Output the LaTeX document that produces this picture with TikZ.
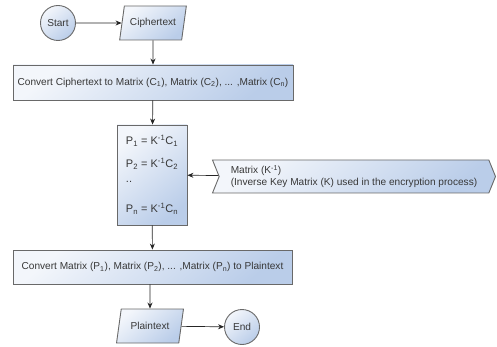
\documentclass[tikz,border=0pt]{standalone}
\usepackage{fontspec}
\setmainfont{Liberation Sans}
\usetikzlibrary{arrows.meta,shapes.geometric,shapes.symbols}
\definecolor{fillhi}{RGB}{243,246,251}
\definecolor{filllo}{RGB}{186,205,233}
\definecolor{edgegray}{RGB}{105,105,105}
\definecolor{textgray}{RGB}{55,55,55}
\begin{document}
\begin{tikzpicture}[x=1pt,y=-1pt,
    shape base/.style={draw=edgegray,line width=0.9pt,top color=fillhi,bottom color=filllo,shading angle=40,
        text=textgray,font=\fontsize{10.1}{12}\selectfont,inner sep=2pt},
    termnode/.style={shape base,circle,minimum size=35},
    iobox/.style={shape base,trapezium,trapezium left angle=73,trapezium right angle=107,trapezium stretches=true,
        minimum width=67,minimum height=34},
    procbox/.style={shape base,rectangle},
    keybox/.style={shape base,signal,signal from=west,signal to=east,signal pointer angle=136,
        minimum width=283,minimum height=33,align=left},
    flowline/.style={draw=black!85,line width=0.7pt,-{Stealth[length=6pt,width=5pt]}}]

\useasboundingbox (0,0) rectangle (497,347);

\node[termnode] (start) at (58,23) {Start};
\node[iobox] (cipher) at (153,23) {Ciphertext};
\node[procbox,minimum width=280,minimum height=35] (tomatrix) at (153,82.5)
    {Convert Ciphertext to Matrix (C\textsubscript{1}), Matrix (C\textsubscript{2}), ... ,Matrix (C\textsubscript{n})};
\node[procbox,minimum width=70,minimum height=100,align=left,font=\fontsize{11}{13}\selectfont] (calc) at (152,175)
    {P\textsubscript{1} = K\textsuperscript{-1}C\textsubscript{1}\\[10pt]
     P\textsubscript{2} = K\textsuperscript{-1}C\textsubscript{2}\\[2pt]
     ..\\[17pt]
     P\textsubscript{n} = K\textsuperscript{-1}C\textsubscript{n}};
\node[keybox] (key) at (354,176.5)
    {Matrix (K\textsuperscript{-1})\\(Inverse Key Matrix (K) used in the encryption process)};
\node[procbox,minimum width=279,minimum height=34] (toplain) at (152.5,267)
    {Convert Matrix (P\textsubscript{1}), Matrix (P\textsubscript{2}), ... ,Matrix (P\textsubscript{n}) to Plaintext};
\node[iobox] (plain) at (150,326) {Plaintext};
\node[termnode] (end) at (242,327) {End};

\draw[flowline] (start) -- (cipher);
\draw[flowline] (cipher) -- (tomatrix);
\draw[flowline] (tomatrix) -- (calc);
\draw[flowline] (key) -- (calc);
\draw[flowline] (calc) -- (toplain);
\draw[flowline] (toplain.south -| plain.north) -- (plain);
\draw[flowline] (plain) -- (end);

\end{tikzpicture}
\end{document}
